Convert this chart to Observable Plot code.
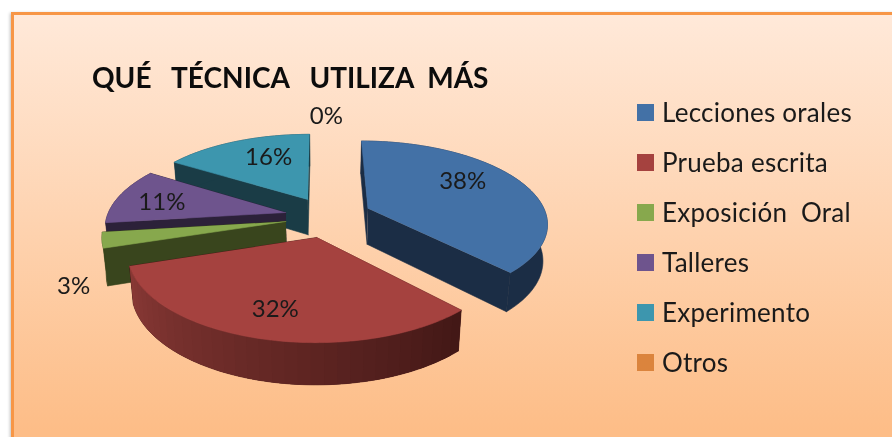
<!DOCTYPE html>
<html><head><meta charset="utf-8">
<script src="https://cdn.jsdelivr.net/npm/d3@7"></script>
<script src="https://cdn.jsdelivr.net/npm/@observablehq/plot@0.6"></script>
<style>
html,body{margin:0;padding:0;background:#fff}
#chart{position:relative;width:892px;height:437px;overflow:hidden;background:#fff;filter:blur(.45px)}
#frame{position:absolute;left:11px;top:12px;width:900px;height:440px;box-sizing:border-box;border:3px solid #f79646;background:linear-gradient(#ffe9d9,#fdbd87 96%);box-shadow:-1px 1px 3px rgba(0,0,0,.25)}
#plot{position:absolute;left:0;top:0}
#plot svg{background:transparent;display:block}
h1{position:absolute;margin:0;left:92px;top:60px;font:700 28px Lato,sans-serif;color:#0c0c0c;white-space:pre;line-height:34px}
.leg{position:absolute;left:637px;display:flex;align-items:center;height:18px;white-space:pre;font:26px Lato,sans-serif;letter-spacing:.25px;color:#1a1a1a}
.leg i{display:block;width:17px;height:17px;margin-right:8px;flex:none}
</style></head><body>
<div id="chart"><div id="frame"></div><div id="plot"></div><h1 id="title"></h1></div>
<script>
const titleText = "QUÉ   TÉCNICA   UTILIZA  MÁS";
const categories = ["Lecciones orales","Prueba escrita","Exposición  Oral","Talleres","Experimento","Otros"];
const values = [38,32,3,11,16,0];
const topColors = ["#4371a6","#a5423f","#87a84d","#6e548d","#3d96ae","#db843d"];
const sideColors = ["#1b2d45","#431816","#39451d","#2c2139","#1a3c46","#7a4416"];
const drawOrder = [4,3,2,1,0];
// layout of the exploded pie, in plane units
const explodeX = [.27,-.021,-.192,-.196,-.073,-.073];
const explodeY = [.076,-.275,-.086,.025,.193,.193];
const labelAngle = [58,195,235.8,280.5,337.5,4.9];
const labelRadius = [.69,.745,1.235,.73,.67,1.336];

const cx=320, cy=214, Rx=178, Ry=80, k=.16, H=36;
const proj=(X,Y)=>{const w=1+k*Y;return {x:cx+Rx*X/w,y:cy-Ry*Y/w,w};};
const drop=p=>({x:cx+(p.x-cx)*.98,y:p.y+H/Math.pow(p.w,.7)});
const total=d3.sum(values);
let acc=0;
const slices=values.map((v,i)=>{const a0=acc/total*2*Math.PI;acc+=v;return {i,a0,a1:acc/total*2*Math.PI};});
const rim=(s,a)=>proj(explodeX[s.i]+Math.sin(a),explodeY[s.i]+Math.cos(a));

const marks=[];
const poly=(pts,color,sw=.6)=>marks.push(Plot.line(pts,{x:"x",y:"y",fill:color,stroke:sw?color:"none",strokeWidth:sw}));
for(const i of drawOrder){
  const s=slices[i], apex=proj(explodeX[i],explodeY[i]);
  const n=Math.max(2,Math.ceil((s.a1-s.a0)/.02));
  const arc=d3.range(n+1).map(j=>rim(s,s.a0+(s.a1-s.a0)*j/n));
  // radial walls
  poly([apex,arc[n],drop(arc[n]),drop(apex)],sideColors[i]);
  poly([apex,arc[0],drop(arc[0]),drop(apex)],sideColors[i]);
  // rim: whole band, then overlapping shaded pieces for the brick slice
  poly([...arc,...arc.map(drop).reverse()],sideColors[i]);
  if(i===1){
    const shade=d3.interpolateRgb("#431816","#8b3a36");
    const step=3;
    for(let j=0;j<n;j+=step){
      const seg=arc.slice(j,Math.min(n,j+2*step)+1);
      poly([...seg,...seg.map(drop).reverse()],shade(j/n),0);
    }
  }
  poly([apex,...arc],topColors[i]);
}
const labels=values.map((v,i)=>{const a=labelAngle[i]*Math.PI/180;const p=proj(explodeX[i]+labelRadius[i]*Math.sin(a),explodeY[i]+labelRadius[i]*Math.cos(a));return {x:p.x,y:p.y,t:v+"%"};});
marks.push(Plot.text(labels,{x:"x",y:"y",text:"t",fontSize:24,fill:"#1a1a1a",fontFamily:"Lato, sans-serif"}));

const svg=Plot.plot({width:892,height:437,margin:0,
  x:{domain:[0,892],range:[0,892],axis:null},
  y:{domain:[0,437],range:[0,437],axis:null},
  marks});
document.getElementById("plot").append(svg);
document.getElementById("title").textContent=titleText;
const chart=document.getElementById("chart");
categories.forEach((c,i)=>{const d=document.createElement("div");d.className="leg";d.style.top=(103+50*i)+"px";
  const sw=document.createElement("i");sw.style.background=topColors[i];d.append(sw,document.createTextNode(c));chart.append(d);});
</script></body></html>
